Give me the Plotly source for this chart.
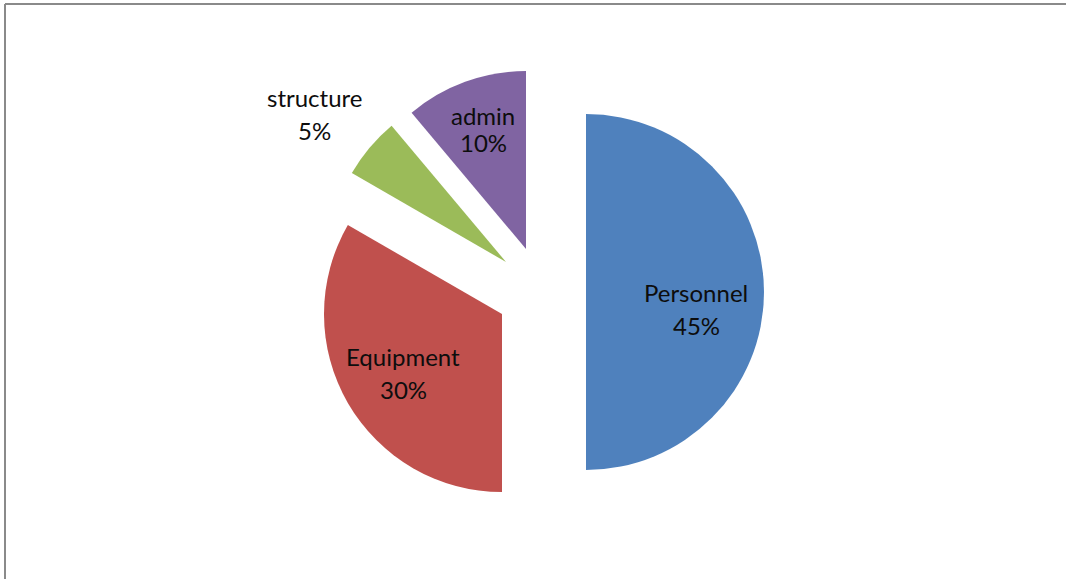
import plotly.graph_objects as go

# Budget shares (values as shown on the labels)
categories = ["Personnel", "Equipment", "structure", "admin"]
shares = [45, 30, 5, 10]
colors = ["#4F81BD", "#C0504D", "#9BBB59", "#8064A2"]

W, H = 1066, 579
R = 178  # slice radius in px

# Tip (apex) of each exploded slice, in px from the top-left corner
apex = {
    "Personnel": (586, 292),
    "Equipment": (502, 314),
    "structure": (506, 262),
    "admin": (526, 249),
}

# Label line centres (label, percentage) in px
label_pos = {
    "Personnel": (696, 293, 325),
    "Equipment": (403, 356, 389),
    "structure": (314, 98, 130),
    "admin": (483, 116, 142),
}

fig = go.Figure()

# One pie per category: the full pie is laid out from the data, only the
# category's own slice is painted, so each slice can be exploded on its own.
for k, name in enumerate(categories):
    ax, ay = apex[name]
    slice_colors = [c if i == k else "rgba(0,0,0,0)" for i, c in enumerate(colors)]
    fig.add_trace(go.Pie(
        labels=categories,
        values=shares,
        sort=False,
        direction="clockwise",
        rotation=0,
        marker=dict(colors=slice_colors, line=dict(width=0)),
        textinfo="none",
        hoverinfo="label+value",
        showlegend=False,
        domain=dict(
            x=[(ax - R) / W, (ax + R) / W],
            y=[1 - (ay + R) / H, 1 - (ay - R) / H],
        ),
    ))

annotations = []
for name, val in zip(categories, shares):
    lx, ly1, ly2 = label_pos[name]
    for text, ly in ((name, ly1), (f"{val}%", ly2)):
        annotations.append(dict(
            x=lx / W, y=1 - ly / H, xref="paper", yref="paper",
            xanchor="center", yanchor="middle", showarrow=False,
            text=text, font=dict(family="Lato", size=24, color="#0d0d0d"),
        ))

# Chart-area frame (top and left edges)
shapes = [
    dict(type="line", xref="paper", yref="paper",
         x0=5 / W, x1=1, y0=1 - 4 / H, y1=1 - 4 / H,
         line=dict(color="#8a8a8a", width=2)),
    dict(type="line", xref="paper", yref="paper",
         x0=5 / W, x1=5 / W, y0=0, y1=1 - 4 / H,
         line=dict(color="#8a8a8a", width=2)),
]

fig.update_layout(
    width=W, height=H,
    margin=dict(l=0, r=0, t=0, b=0),
    paper_bgcolor="white",
    plot_bgcolor="white",
    annotations=annotations,
    shapes=shapes,
)

fig.write_html("out.html")
